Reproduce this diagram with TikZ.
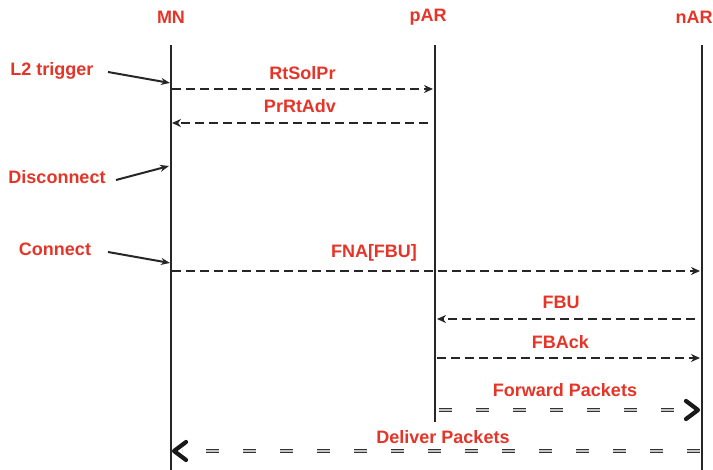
\documentclass[tikz,border=0pt]{standalone}
\usepackage{fontspec}
\setmainfont{Liberation Sans}
\usetikzlibrary{arrows.meta}
\definecolor{lbl}{RGB}{230,52,40}
\begin{document}
\begin{tikzpicture}[x=1pt,y=-1pt,
  txt/.style={text=lbl,font=\bfseries\fontsize{18}{20}\selectfont,inner sep=0pt},
  life/.style={line width=2.4pt,black!85},
  msg/.style={line width=2.2pt,black!85,dash pattern=on 9pt off 5pt,-{Stealth[length=9pt,width=8pt]}},
  evt/.style={line width=2pt,black!85,-{Stealth[length=9pt,width=7pt]}},
  bulk/.style={double=white!55!gray,double distance=1.3pt,line width=1.4pt,black!80,dash pattern=on 13pt off 24pt},
  chev/.style={line width=4.2pt,black!90,line cap=round,line join=round}]
\useasboundingbox (0,0) rectangle (713,470);
% entity headers
\node[txt] (MN) at (171,17) {MN};
\node[txt] (pAR) at (428,17) {pAR};
\node[txt] (nAR) at (694,17) {nAR};
% lifelines
\coordinate (mnT) at (171,45);  \coordinate (mnB) at (171,470);
\coordinate (paT) at (435,45);  \coordinate (paB) at (435,422);
\coordinate (naT) at (702,45);  \coordinate (naB) at (702,470);
\draw[life] (mnT) -- (mnB);
\draw[life] (paT) -- (paB);
\draw[life] (naT) -- (naB);
% link-layer events at MN
\node[txt] (l2) at (52,71) {L2 trigger};
\node[txt] (dis) at (57,177) {Disconnect};
\node[txt] (con) at (55,249) {Connect};
\coordinate (l2s) at (108,72);  \coordinate (l2e) at (170,83);
\coordinate (diss) at (116,180); \coordinate (dise) at (169,166);
\coordinate (cons) at (108,252); \coordinate (cone) at (170,263);
\draw[evt] (l2s) -- (l2e);
\draw[evt] (diss) -- (dise);
\draw[evt] (cons) -- (cone);
% signalling messages
\coordinate (m1a) at (172,89);  \coordinate (m1b) at (433,89);
\coordinate (m2a) at (428,123); \coordinate (m2b) at (172,123);
\coordinate (m3a) at (172,271); \coordinate (m3b) at (700,271);
\coordinate (m4a) at (695,319); \coordinate (m4b) at (437,319);
\coordinate (m5a) at (437,358); \coordinate (m5b) at (700,358);
\draw[msg] (m1a) -- node[txt,above=8pt] (t1) {RtSolPr} (m1b);
\draw[msg] (m2a) -- node[txt,above=9pt] (t2) {PrRtAdv} (m2b);
\draw[msg] (m3a) -- node[txt,above=9pt,xshift=-62pt] (t3) {FNA[FBU]} (m3b);
\draw[msg] (m4a) -- node[txt,above=9pt,xshift=-5pt] (t4) {FBU} (m4b);
\draw[msg] (m5a) -- node[txt,above=8pt,xshift=-8pt] (t5) {FBAck} (m5b);
% data forwarding
\coordinate (f1a) at (439,410); \coordinate (f1b) at (690,410); \coordinate (f1t) at (698,410);
\coordinate (f2a) at (700,451); \coordinate (f2b) at (182,451); \coordinate (f2t) at (174,451);
\draw[bulk] (f1a) -- (f1b);
\draw[chev] ([shift={(-12,-9)}]f1t) -- (f1t) -- ([shift={(-12,9)}]f1t);
\node[txt] (t6) at (565,390) {Forward Packets};
\draw[bulk] (f2a) -- (f2b);
\draw[chev] ([shift={(12,-9)}]f2t) -- (f2t) -- ([shift={(12,9)}]f2t);
\node[txt] (t7) at (443,437) {Deliver Packets};
\end{tikzpicture}
\end{document}
